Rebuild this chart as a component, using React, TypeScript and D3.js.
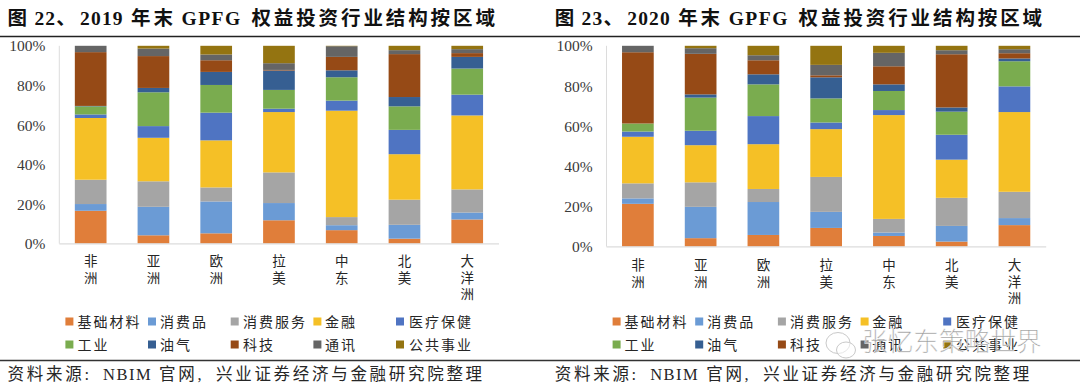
import React from "react";
import * as d3 from "d3";

const regions = ["非洲", "亚洲", "欧洲", "拉美", "中东", "北美", "大洋洲"];
const sectors = ["基础材料", "消费品", "消费服务", "金融", "医疗保健", "工业", "油气", "科技", "通讯", "公共事业"];
const colors = ["#e07e3a", "#6b9bd5", "#a5a5a5", "#f5c026", "#4f74c2", "#7aac4f", "#365f92", "#964a16", "#656565", "#947411"];
const yTicks = [0, 20, 40, 60, 80, 100];

// 2019 shares, one list per sector
const basic19 = [16.6, 4.2, 5.2, 11.8, 6.8, 2.5, 12.2];
const goods19 = [3.4, 14.4, 16.1, 8.7, 2.5, 7.0, 3.5];
const services19 = [12.3, 12.9, 7.1, 15.5, 4.1, 12.7, 11.7];
const finance19 = [31.2, 22.0, 23.8, 30.5, 53.8, 23.0, 37.4];
const health19 = [1.8, 5.9, 14.0, 1.7, 5.1, 12.3, 10.5];
const industry19 = [4.1, 17.1, 14.0, 9.5, 11.8, 11.9, 13.2];
const oil19 = [0.2, 2.2, 6.6, 9.8, 3.5, 4.7, 5.9];
const tech19 = [27.2, 16.1, 5.9, 0.3, 6.8, 21.7, 1.9];
const telecom19 = [3.2, 3.8, 2.9, 3.4, 5.4, 2.0, 2.0];
const utility19 = [0, 1.4, 4.4, 8.8, 0.2, 2.2, 1.7];

// 2020 shares, one list per sector
const basic20 = [21.3, 4.2, 5.8, 9.3, 5.3, 2.5, 10.7];
const goods20 = [2.7, 15.6, 16.4, 8.0, 1.7, 7.8, 3.5];
const services20 = [7.5, 12.2, 6.5, 17.4, 6.8, 14.0, 13.1];
const finance20 = [23.2, 18.5, 22.3, 23.8, 51.7, 19.0, 39.7];
const health20 = [2.6, 7.2, 14.0, 3.3, 2.5, 12.4, 12.8];
const industry20 = [4.0, 16.5, 15.8, 12.0, 9.5, 11.5, 12.5];
const oil20 = [0, 1.6, 5.0, 10.5, 3.3, 2.1, 1.4];
const tech20 = [35.5, 20.2, 7.0, 1.0, 9.0, 26.5, 2.6];
const telecom20 = [3.2, 2.8, 2.5, 5.2, 6.7, 2.0, 2.0];
const utility20 = [0, 1.2, 4.7, 9.5, 3.5, 2.2, 1.7];

const series19 = [basic19, goods19, services19, finance19, health19, industry19, oil19, tech19, telecom19, utility19];
const series20 = [basic20, goods20, services20, finance20, health20, industry20, oil20, tech20, telecom20, utility20];

const titleParts19 = ["图", "22、", "2019", "年末", "GPFG", "权益投资行业结构按区域"];
const titleParts20 = ["图", "23、", "2020", "年末", "GPFG", "权益投资行业结构按区域"];
const sourceParts = ["资料来源:", "NBIM", "官网,", "兴业证券经济与金融研究院整理"];

const SERIF = "'Liberation Serif','Noto Sans CJK SC',serif";
const titleX = [7.6, 34.4, 80, 131, 181.5, 251.4];
const titleSpacing = [2.9, 1.2, 1.2, 2.9, 1.5, 2.9];
const sourceX = [7.6, 103, 159, 216];
const sourceSpacing = [2.7, 1.5, 2.7, 2.7];
const legendSwatchX = [0, 82.6, 165.3, 248, 330.6];
const legendTextX = [12, 94.6, 177.5, 259.6, 343.5];
const TEXT = "#262626";

type PanelProps = { dx: number; y0: number; title: string[]; series: number[][]; labelY: number };

function Panel({ dx, y0, title, series, labelY }: PanelProps) {
  const x = d3.scaleBand<string>().domain(regions).range([59.3 + dx, 498.6 + dx]).paddingInner(0.495).paddingOuter(0.2475);
  const y = d3.scaleLinear().domain([0, 100]).range([y0, 45.8]);
  const rows = regions.map((r, i) => {
    const row: Record<string, number | string> = { region: r };
    sectors.forEach((s, k) => (row[s] = series[k][i]));
    return row;
  });
  const stacked = d3.stack<any>().keys(sectors)(rows);
  return (
    <g>
      <text y={24.5} fontFamily={SERIF} fontWeight={700} fontSize={19.5} fill="#111">
        {title.map((p, i) => (
          <tspan key={i} x={dx + titleX[i]} letterSpacing={titleSpacing[i]}>{p}</tspan>
        ))}
      </text>
      {stacked.map((layer, k) => (
        <g key={sectors[k]} fill={colors[k]}>
          {layer.map((d, i) => (
            <rect key={regions[i]} x={x(regions[i])} width={x.bandwidth()} y={y(d[1])} height={Math.max(0, y(d[0]) - y(d[1]))} />
          ))}
        </g>
      ))}
      <line x1={59.3 + dx} x2={59.3 + dx} y1={45.8} y2={y0} stroke="#dcdcdc" strokeWidth={1} />
      <line x1={59.3 + dx} x2={499 + dx} y1={y0 + 0.3} y2={y0 + 0.3} stroke="#dcdcdc" strokeWidth={1.2} />
      {yTicks.map((t) => (
        <text key={t} x={45.5 + dx} y={y(t)} dy="0.36em" textAnchor="end" fontFamily={SERIF} fontSize={15.5} fill="#3a3a3a">{t}%</text>
      ))}
      {regions.map((r) => (
        <text key={r} fontFamily={SERIF} fontSize={13.5} fill={TEXT} textAnchor="middle">
          {Array.from(r).map((c, i) => (
            <tspan key={i} x={(x(r) ?? 0) + x.bandwidth() / 2} y={labelY + i * 16.6}>{c}</tspan>
          ))}
        </text>
      ))}
      {sectors.map((s, k) => {
        const col = k % 5;
        const rowY = k < 5 ? 321.5 : 344.5;
        return (
          <g key={s}>
            <rect x={65.4 + dx + legendSwatchX[col]} y={rowY - 4} width={8} height={8} fill={colors[k]} />
            <text x={65.4 + dx + legendTextX[col]} y={rowY + 5} fontFamily={SERIF} fontSize={14} letterSpacing={2} fill={TEXT}>{s}</text>
          </g>
        );
      })}
      <text y={379.5} fontFamily={SERIF} fontSize={16.5} fill={TEXT}>
        {sourceParts.map((p, i) => (
          <tspan key={i} x={dx + sourceX[i]} letterSpacing={sourceSpacing[i]}>{p}</tspan>
        ))}
      </text>
    </g>
  );
}

export default function App() {
  return (
    <svg width={1080} height={390} viewBox="0 0 1080 390" style={{ position: "absolute", left: 0, top: 0, background: "#fff" }}>
      <Panel dx={0} y0={243.6} series={series19} labelY={266} title={titleParts19} />
      <Panel dx={547.2} y0={246.6} series={series20} labelY={270} title={titleParts20} />
      <line x1={0} x2={1080} y1={36.5} y2={36.5} stroke="#222" strokeWidth={1.5} />
      <line x1={0} x2={1080} y1={360.5} y2={360.5} stroke="#333" strokeWidth={1.6} />
      <g>
        <ellipse cx={838} cy={343} rx={12} ry={10.5} fill="#fff" fillOpacity={0.55} stroke="#c9c9c9" strokeWidth={1} />
        <ellipse cx={846} cy={350} rx={9.5} ry={8} fill="#fff" fillOpacity={0.55} stroke="#c9c9c9" strokeWidth={1} />
        <text x={862} y={351} fontFamily="'Noto Sans CJK SC',sans-serif" fontWeight={300} fontSize={25.7} fill="#999" stroke="#fff" strokeWidth={0.4}>张忆东策略世界</text>
      </g>
    </svg>
  );
}
